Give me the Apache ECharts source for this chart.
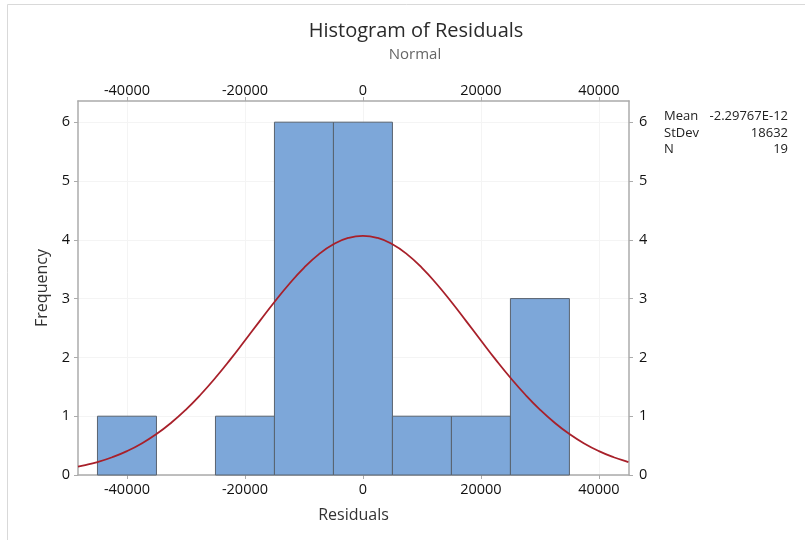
<!DOCTYPE html>
<html>
<head>
<meta charset="utf-8">
<script src="https://cdn.jsdelivr.net/npm/echarts@6/dist/echarts.min.js"></script>
<style>
  html, body { margin: 0; padding: 0; background: #fff; }
  #chart { width: 805px; height: 540px; }
</style>
</head>
<body>
<div id="chart"></div>
<script>
// Histogram bins (midpoints) and their frequencies
const binMids = [-40000, -30000, -20000, -10000, 0, 10000, 20000, 30000];
const binCounts = [1, 0, 1, 6, 6, 1, 1, 3];
const binWidth = 10000;

// Fitted normal curve, sampled along the residual axis
const curveX = [-48300, -47500, -45000, -42500, -40000, -37500, -35000, -32500, -30000, -27500,
  -25000, -22500, -20000, -17500, -15000, -12500, -10000, -7500, -5000, -2500,
  0, 2500, 5000, 7500, 10000, 12500, 15000, 17500, 20000, 22500,
  25000, 27500, 30000, 32500, 35000, 37500, 40000, 42500, 45000, 45100];
const curveY = [0.141, 0.158, 0.220, 0.302, 0.406, 0.537, 0.697, 0.889, 1.113, 1.369,
  1.654, 1.962, 2.287, 2.617, 2.942, 3.248, 3.523, 3.752, 3.924, 4.031,
  4.068, 4.031, 3.924, 3.752, 3.523, 3.248, 2.942, 2.617, 2.287, 1.962,
  1.654, 1.369, 1.113, 0.889, 0.697, 0.537, 0.406, 0.302, 0.220, 0.217];

// Tick labels
const xTicks = [-40000, -20000, 0, 20000, 40000];
const yTicks = [0, 1, 2, 3, 4, 5, 6];

// Summary statistics
const statNames = ['Mean', 'StDev', 'N'];
const statValues = ['-2.29767E-12', '18632', '19'];

const FONT = '"Open Sans", "Noto Sans", sans-serif';
const axisGray = '#ababab';

const chart = echarts.init(document.getElementById('chart'), null, { renderer: 'canvas' });

function plainNumber(v) { return String(v); }

function xAxisDef(position) {
  return {
    type: 'value',
    position: position,
    min: -48300,
    max: 45100,
    axisLine: { show: true, onZero: false, lineStyle: { color: axisGray, width: 1.5 } },
    axisTick: { show: true, length: 4, customValues: xTicks, lineStyle: { color: axisGray, width: 1 } },
    axisLabel: {
      show: true, customValues: xTicks, margin: position === 'top' ? 3 : 7,
      formatter: plainNumber,
      color: '#111111', fontFamily: FONT, fontSize: 14.5
    },
    splitLine: { show: position === 'bottom', lineStyle: { color: '#f4f4f4', width: 1 } }
  };
}

function yAxisDef(position) {
  return {
    type: 'value',
    position: position,
    min: 0,
    max: 6.36,
    axisLine: { show: true, onZero: false, lineStyle: { color: axisGray, width: 1.5 } },
    axisTick: { show: true, length: 4, customValues: yTicks, lineStyle: { color: axisGray, width: 1 } },
    axisLabel: {
      show: true, customValues: yTicks, margin: position === 'left' ? 8 : 10,
      formatter: plainNumber,
      color: '#111111', fontFamily: FONT, fontSize: 14.5
    },
    splitLine: { show: position === 'left', lineStyle: { color: '#f4f4f4', width: 1 } }
  };
}

const xBottom = xAxisDef('bottom');
xBottom.name = 'Residuals';
xBottom.nameLocation = 'middle';
xBottom.nameGap = 32;
xBottom.nameTextStyle = { color: '#333333', fontFamily: FONT, fontSize: 16 };

const yLeft = yAxisDef('left');
yLeft.name = 'Frequency';
yLeft.nameLocation = 'middle';
yLeft.nameGap = 20;
yLeft.nameTextStyle = { color: '#333333', fontFamily: FONT, fontSize: 16 };

const statGraphics = [];
statNames.forEach(function (name, i) {
  statGraphics.push({
    type: 'text', left: 664, top: 110 + i * 16.3,
    style: { text: name, fill: '#222222', font: '13px ' + FONT }
  });
  statGraphics.push({
    type: 'text', right: 805 - 788, top: 110 + i * 16.3,
    style: { text: statValues[i], fill: '#222222', font: '13px ' + FONT, textAlign: 'right' }
  });
});

chart.setOption({
  animation: false,
  backgroundColor: '#ffffff',
  title: [
    {
      text: 'Histogram of Residuals',
      left: 411, top: 16, textAlign: 'center',
      textStyle: { color: '#2a2a2a', fontFamily: FONT, fontSize: 20, fontWeight: 'normal' }
    },
    {
      text: 'Normal',
      left: 410, top: 42, textAlign: 'center',
      textStyle: { color: '#666666', fontFamily: FONT, fontSize: 15, fontWeight: 'normal' }
    }
  ],
  grid: { left: 78, top: 101, right: 176, bottom: 65, containLabel: false },
  xAxis: [xBottom, xAxisDef('top')],
  yAxis: [yLeft, yAxisDef('right')],
  graphic: [
    {
      type: 'rect', z: -10, silent: true,
      shape: { x: 7.5, y: 4.5, width: 1200, height: 1200 },
      style: { fill: 'none', stroke: '#d9d9d9', lineWidth: 1 }
    }
  ].concat(statGraphics),
  series: [
    {
      type: 'custom',
      name: 'Histogram',
      xAxisIndex: 0, yAxisIndex: 0,
      z: 2,
      encode: { x: 0, y: 1 },
      data: binMids.map(function (m, i) { return [m, binCounts[i]]; }),
      renderItem: function (params, api) {
        const mid = api.value(0);
        const cnt = api.value(1);
        if (!cnt) return null;
        const p0 = api.coord([mid - binWidth / 2, cnt]);
        const p1 = api.coord([mid + binWidth / 2, 0]);
        return {
          type: 'rect',
          shape: { x: p0[0], y: p0[1], width: p1[0] - p0[0], height: p1[1] - p0[1] },
          style: { fill: '#7da7d9', stroke: '#59636f', lineWidth: 1 }
        };
      }
    },
    {
      type: 'line',
      name: 'Normal',
      xAxisIndex: 0, yAxisIndex: 0,
      z: 3,
      smooth: true,
      showSymbol: false,
      symbol: 'none',
      data: curveX.map(function (x, i) { return [x, curveY[i]]; }),
      lineStyle: { color: '#a8202a', width: 1.8 }
    }
  ]
});
</script>
</body>
</html>
